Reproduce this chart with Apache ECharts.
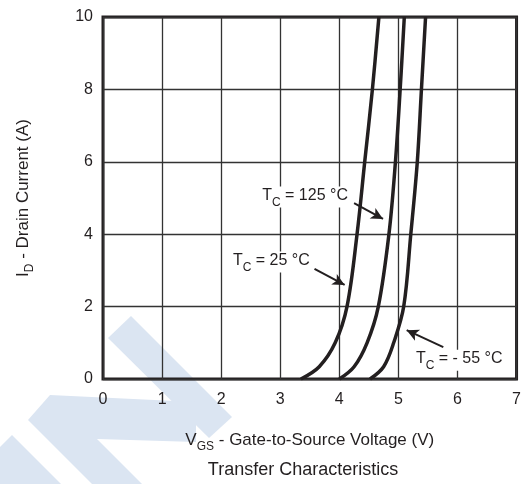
<!DOCTYPE html>
<html>
<head>
<meta charset="utf-8">
<script src="https://cdn.jsdelivr.net/npm/echarts@6/dist/echarts.min.js"></script>
<style>
  html, body { margin: 0; padding: 0; background: #ffffff; }
  #chart { width: 524px; height: 484px; }
</style>
</head>
<body>
<div id="chart"></div>
<script>
// Axis ticks
const vgsTicks = [0, 1, 2, 3, 4, 5, 6, 7];
const idTicks = [0, 2, 4, 6, 8, 10];

// Transfer curves: gate-source voltage (V) vs. drain current (A)
const vgsLeft = [3.35, 3.66, 3.93, 4.13, 4.30, 4.43, 4.56, 4.67];
const idLeft = [0, 0.34, 1.0, 2.0, 4.0, 6.0, 8.0, 10.0];

const vgsMid = [4.00, 4.25, 4.47, 4.66, 4.84, 4.95, 5.03, 5.10];
const idMid = [0, 0.34, 1.0, 2.0, 4.0, 6.0, 8.0, 10.0];

const vgsRight = [4.52, 4.75, 4.92, 5.09, 5.21, 5.32, 5.39, 5.46];
const idRight = [0, 0.34, 1.0, 2.0, 4.0, 6.0, 8.0, 10.0];

// Case temperature callouts
const calloutText = ['125 °C', '25 °C', '- 55 °C'];
const calloutPos = [[3.42, 5.03], [2.85, 3.23], [6.03, 0.52]];
const arrowFrom = [[4.25, 4.86], [3.58, 3.04], [5.76, 0.88]];
const arrowTo = [[4.74, 4.42], [4.09, 2.60], [5.14, 1.35]];

const INK = '#231f20';
const FONT = 'Liberation Sans, Arial, Helvetica, sans-serif';

function pairs(xs, ys) { return xs.map((v, i) => [v, ys[i]]); }

const textRich = {
  t: { fontSize: 16, fontFamily: FONT, color: INK, lineHeight: 19, verticalAlign: 'top' },
  sub: { fontSize: 12, fontFamily: FONT, color: INK, lineHeight: 12, padding: [9, 0, 0, 0], verticalAlign: 'top' }
};

function curve(name, xs, ys) {
  return {
    name: name,
    type: 'line',
    data: pairs(xs, ys),
    smooth: 0.35,
    showSymbol: false,
    symbol: 'none',
    clip: true,
    lineStyle: { color: INK, width: 3.5 },
    z: 3
  };
}

const series = [
  curve('TC = 125 °C', vgsLeft, idLeft),
  curve('TC = 25 °C', vgsMid, idMid),
  curve('TC = - 55 °C', vgsRight, idRight)
];

// Callout labels and arrows
series.push({
  name: 'callouts',
  type: 'line',
  data: [],
  silent: true,
  z: 5,
  markPoint: {
    symbol: 'circle',
    symbolSize: 1,
    itemStyle: { color: 'rgba(0,0,0,0)' },
    label: {
      show: true,
      position: 'inside',
      backgroundColor: '#ffffff',
      padding: [1, 3, 1, 3],
      rich: textRich
    },
    data: calloutPos.map((p, i) => ({
      coord: p,
      label: { formatter: '{t|T}{sub|C}{t| = ' + calloutText[i] + '}' }
    }))
  },
  markLine: {
    silent: true,
    symbol: ['none', 'arrow'],
    symbolSize: [9, 12],
    label: { show: false },
    lineStyle: { color: INK, width: 2, type: 'solid' },
    data: arrowFrom.map((p, i) => [{ coord: p }, { coord: arrowTo[i] }])
  }
});

const chart = echarts.init(document.getElementById('chart'), null, { renderer: 'canvas' });

chart.setOption({
  animation: false,
  backgroundColor: '#ffffff',
  title: {
    text: 'Transfer Characteristics',
    left: 298,
    top: 456,
    textAlign: 'center',
    textStyle: { fontSize: 18, fontWeight: 'normal', fontFamily: FONT, color: INK }
  },
  graphic: [
    // pale blue stamp behind the plot
    { type: 'polygon', z: -10, silent: true,
      shape: { points: [[108, 338], [131, 316], [232, 417], [209, 438]] },
      style: { fill: '#dbe5f2' } },
    { type: 'polygon', z: -10, silent: true,
      shape: { points: [[50, 395], [196, 402], [196, 442], [97, 439], [142, 484], [92, 484], [28, 420]] },
      style: { fill: '#dbe5f2' } },
    { type: 'polygon', z: -10, silent: true,
      shape: { points: [[12, 435], [61, 484], [0, 484], [0, 447]] },
      style: { fill: '#dbe5f2' } }
  ],
  grid: {
    left: 103, top: 17, right: 4, bottom: 105,
    show: true, borderColor: INK, borderWidth: 3, backgroundColor: 'transparent'
  },
  xAxis: {
    type: 'value',
    min: vgsTicks[0], max: vgsTicks[vgsTicks.length - 1], interval: 1,
    axisLine: { show: false },
    axisTick: { show: false },
    axisLabel: { margin: 13, fontSize: 16, fontFamily: FONT, color: INK,
      formatter: v => String(vgsTicks[vgsTicks.indexOf(v)] ?? v) },
    splitLine: { show: true, lineStyle: { color: '#333333', width: 1.3 } },
    name: '{t|V}{sub|GS}{t| - Gate-to-Source Voltage (V)}',
    nameLocation: 'middle',
    nameGap: 53,
    nameTextStyle: { rich: {
      t: { fontSize: 17, fontFamily: FONT, color: INK, lineHeight: 20, verticalAlign: 'top' },
      sub: { fontSize: 12, fontFamily: FONT, color: INK, lineHeight: 12, padding: [9, 0, 0, 0], verticalAlign: 'top' }
    } }
  },
  yAxis: {
    type: 'value',
    min: idTicks[0], max: idTicks[idTicks.length - 1], interval: 2,
    axisLine: { show: false },
    axisTick: { show: false },
    axisLabel: { margin: 10, fontSize: 16, fontFamily: FONT, color: INK,
      formatter: v => String(idTicks[idTicks.indexOf(v)] ?? v) },
    splitLine: { show: true, lineStyle: { color: '#333333', width: 1.3 } },
    name: '{t|I}{sub|D}{t| - Drain Current (A)}',
    nameLocation: 'middle',
    nameGap: 68,
    nameRotate: 90,
    nameTextStyle: { rich: {
      t: { fontSize: 17, fontFamily: FONT, color: INK, lineHeight: 20, verticalAlign: 'top' },
      sub: { fontSize: 12, fontFamily: FONT, color: INK, lineHeight: 12, padding: [9, 0, 0, 0], verticalAlign: 'top' }
    } }
  },
  series: series
});
</script>
</body>
</html>
